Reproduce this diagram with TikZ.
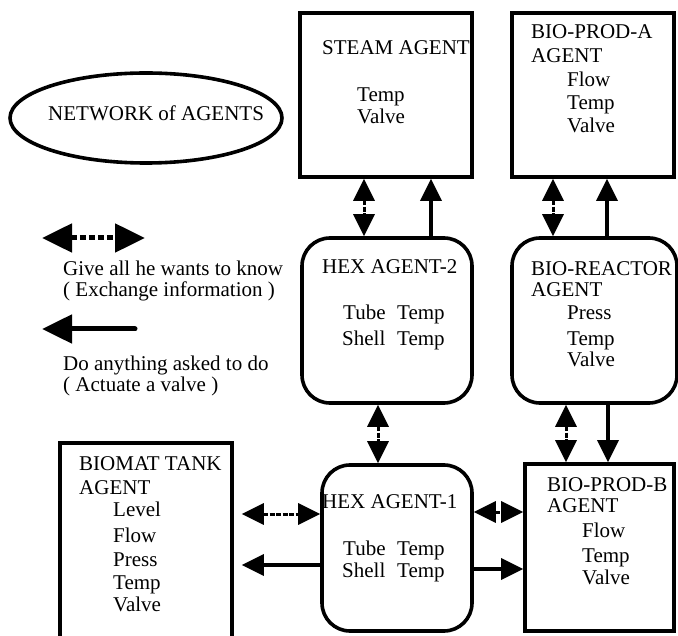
\documentclass[tikz,border=0pt]{standalone}
\usepackage{fontspec}
\setmainfont{Liberation Serif}
\usetikzlibrary{arrows.meta,calc,shapes.geometric}
\begin{document}
\begin{tikzpicture}[x=1pt,y=-1pt,
  agentbox/.style={draw,line width=3.6pt,rectangle,inner sep=0pt},
  roundbox/.style={agentbox,rounded corners=28pt},
  txt/.style={anchor=base west,inner sep=0pt,font=\fontsize{21}{24}\selectfont},
  info/.style={{Triangle[length=22pt,width=21pt]}-{Triangle[length=22pt,width=21pt]},line width=3pt,dash pattern=on 5pt off 1.5pt},
  act/.style={-{Triangle[length=22pt,width=21pt]},line width=3.6pt},
  leginfo/.style={{Triangle[length=30pt,width=28pt]}-{Triangle[length=30pt,width=28pt]},line width=5pt,dash pattern=on 6pt off 3pt},
  legact/.style={-{Triangle[length=30pt,width=28pt]},line width=5pt,line cap=round}]
\clip (0,0) rectangle (678,636);
\useasboundingbox (0,0) rectangle (678,636);
% ellipse
\node[draw,ellipse,line width=3.6pt,minimum width=272pt,minimum height=90pt] (net) at (146,118) {};
\node[txt] (nettxt) at (48,121) {NETWORK of AGENTS};
% boxes
\node[agentbox,minimum width=172pt,minimum height=164pt] (steam) at (386,95) {};
\node[agentbox,minimum width=162pt,minimum height=164pt] (bpa) at (593,95) {};
\node[roundbox,minimum width=170pt,minimum height=165pt] (hex2) at (387,320.5) {};
\node[roundbox,minimum width=165pt,minimum height=165pt] (bior) at (594.5,320.5) {};
\node[roundbox,minimum width=150pt,minimum height=166pt] (hex1) at (397,548) {};
\node[agentbox,minimum width=149pt,minimum height=167pt] (bpb) at (599.5,547.5) {};
\node[agentbox,minimum width=172pt,minimum height=217pt] (biomat) at (146,551.5) {};
% texts
\node[txt] (s1) at (322,55) {STEAM AGENT};
\node[txt] (s2) at (357,102) {Temp};
\node[txt] (s3) at (357,124) {Valve};
\node[txt] (a1) at (531,39) {BIO-PROD-A};
\node[txt] (a2) at (531,63) {AGENT};
\node[txt] (a3) at (567,87) {Flow};
\node[txt] (a4) at (567,110) {Temp};
\node[txt] (a5) at (567,133) {Valve};
\node[txt] (h21) at (322,274) {HEX AGENT-2};
\node[txt] (h22) at (343,320) {\makebox[54pt][l]{Tube}Temp};
\node[txt] (h23) at (342,346) {\makebox[55pt][l]{Shell}Temp};
\node[txt] (r1) at (531,276) {BIO-REACTOR};
\node[txt] (r2) at (531,297) {AGENT};
\node[txt] (r3) at (567,320) {Press};
\node[txt] (r4) at (567,346) {Temp};
\node[txt] (r5) at (567,367) {Valve};
\node[txt] (h11) at (322,508) {HEX AGENT-1};
\node[txt] (h12) at (343,555) {\makebox[54pt][l]{Tube}Temp};
\node[txt] (h13) at (342,577) {\makebox[55pt][l]{Shell}Temp};
\node[txt] (b1) at (547,491) {BIO-PROD-B};
\node[txt] (b2) at (547,512) {AGENT};
\node[txt] (b3) at (582,537) {Flow};
\node[txt] (b4) at (582,562) {Temp};
\node[txt] (b5) at (582,584) {Valve};
\node[txt] (m1) at (79,471) {BIOMAT TANK};
\node[txt] (m2) at (79,494) {AGENT};
\node[txt] (m3) at (113,516) {Level};
\node[txt] (m4) at (113,542) {Flow};
\node[txt] (m5) at (113,566) {Press};
\node[txt] (m6) at (113,589) {Temp};
\node[txt] (m7) at (113,611) {Valve};
\node[txt] (l1) at (63,276) {Give all he wants to know};
\node[txt] (l2) at (63,297) {( Exchange information )};
\node[txt] (l3) at (63,371) {Do anything asked to do};
\node[txt] (l4) at (63,392) {( Actuate a valve )};
% legend arrows
\coordinate (la) at (42,238);
\coordinate (lb) at (145,238);
\coordinate (lc) at (135,329);
\coordinate (ld) at (42,329);
\draw[leginfo] (la) -- (lb);
\draw[legact] (lc) -- (ld);
% connectors
\draw[info] ($(steam.south)+(-22,0)$) -- ($(hex2.north)+(-23,0)$);
\draw[act] ($(hex2.north)+(44,0)$) -- ($(steam.south)+(45,0)$);
\draw[info] ($(bpa.south)+(-40,0)$) -- ($(bior.north)+(-41.5,0)$);
\draw[act] ($(bior.north)+(12.5,0)$) -- ($(bpa.south)+(14,0)$);
\draw[info] ($(hex2.south)+(-9,0)$) -- ($(hex1.north)+(-19,0)$);
\draw[info] ($(bior.south)+(-28.5,0)$) -- ($(bpb.north)+(-33.5,0)$);
\draw[act] ($(bior.south)+(13.5,0)$) -- ($(bpb.north)+(8.5,0)$);
\draw[info,shorten <=8pt] ($(biomat.east)+(0,-37.5)$) -- ($(hex1.west)+(0,-34)$);
\draw[act,shorten >=8pt] ($(hex1.west)+(0,17)$) -- ($(biomat.east)+(0,13.5)$);
\draw[info] ($(hex1.east)+(0,-36)$) -- ($(bpb.west)+(0,-35.5)$);
\draw[act] ($(hex1.east)+(0,21)$) -- ($(bpb.west)+(0,21.5)$);
\end{tikzpicture}
\end{document}
